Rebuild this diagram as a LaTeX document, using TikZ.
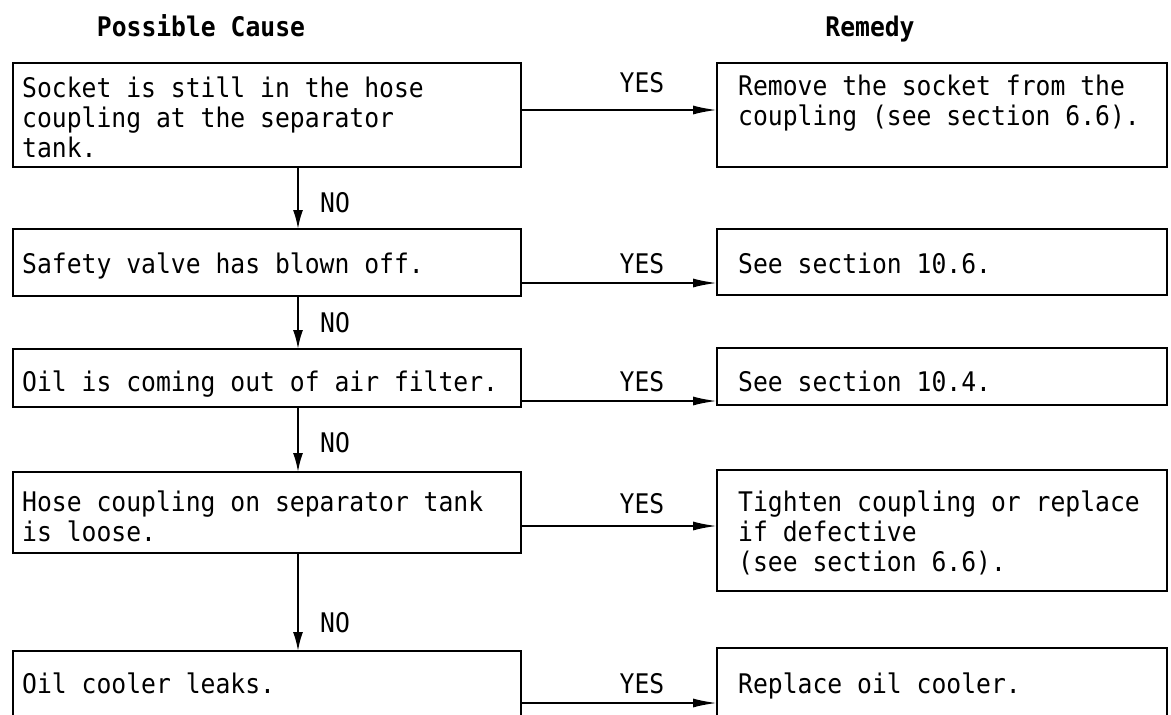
\documentclass[tikz,border=0pt]{standalone}
\usepackage{fontspec}
\newfontfamily\mono[FakeStretch=0.915]{DejaVu Sans Mono}
\usetikzlibrary{arrows.meta}
\begin{document}
\begin{tikzpicture}[x=1pt,y=-1pt,
  box/.style={draw, line width=1.9pt, inner sep=0pt, outer sep=0pt, anchor=north west},
  txt/.style={anchor=north west, inner sep=0pt, align=left, font=\mono\fontsize{27}{30}\selectfont},
  lbl/.style={inner sep=0pt, font=\mono\fontsize{27}{30}\selectfont},
  hdr/.style={anchor=base, inner sep=0pt, font=\mono\bfseries\fontsize{27}{30}\selectfont},
  yesarr/.style={line width=1.9pt, -{Latex[length=24pt,width=9pt]}},
  noarr/.style={line width=1.9pt, -{Latex[length=19pt,width=10pt]}},
]
\useasboundingbox (0,0) rectangle (1171,715);
\clip (0,0) rectangle (1171,715);

% headers
\node[hdr] (hcause) at (201,36) {Possible Cause};
\node[hdr] (hremedy) at (870,36) {Remedy};

% left boxes
\node[box, minimum width=508pt, minimum height=104pt] (L1) at (13,63) {};
\node[box, minimum width=508pt, minimum height=67pt]  (L2) at (13,229) {};
\node[box, minimum width=508pt, minimum height=58pt]  (L3) at (13,349) {};
\node[box, minimum width=508pt, minimum height=81pt]  (L4) at (13,472) {};
\node[box, minimum width=508pt, minimum height=90pt]  (L5) at (13,651) {};

% right boxes
\node[box, minimum width=450pt, minimum height=104pt] (R1) at (717,63) {};
\node[box, minimum width=450pt, minimum height=66pt]  (R2) at (717,229) {};
\node[box, minimum width=450pt, minimum height=57pt]  (R3) at (717,348) {};
\node[box, minimum width=450pt, minimum height=121pt] (R4) at (717,470) {};
\node[box, minimum width=450pt, minimum height=90pt]  (R5) at (717,648) {};

% texts (north west = baseline - 21)
\node[txt] (tL1) at (22,76) {\strut Socket is still in the hose\\coupling at the separator\\tank.};
\node[txt] (tL2) at (22,252) {\strut Safety valve has blown off.};
\node[txt] (tL3) at (22,370) {\strut Oil is coming out of air filter.};
\node[txt] (tL4) at (22,490) {\strut Hose coupling on separator tank\\is loose.};
\node[txt] (tL5) at (22,672) {\strut Oil cooler leaks.};

\node[txt] (tR1) at (738,74) {\strut Remove the socket from the\\coupling (see section 6.6).};
\node[txt] (tR2) at (738,252) {\strut See section 10.6.};
\node[txt] (tR3) at (738,370) {\strut See section 10.4.};
\node[txt] (tR4) at (738,490) {\strut Tighten coupling or replace\\if defective\\(see section 6.6).};
\node[txt] (tR5) at (738,672) {\strut Replace oil cooler.};

% YES connectors
\coordinate (y1) at (0,110);
\coordinate (y2) at (0,283);
\coordinate (y3) at (0,401);
\coordinate (y4) at (0,526);
\coordinate (y5) at (0,703);
\draw[yesarr] (L1.east |- y1) -- (R1.west |- y1);
\draw[yesarr] (L2.east |- y2) -- (R2.west |- y2);
\draw[yesarr] (L3.east |- y3) -- (R3.west |- y3);
\draw[yesarr] (L4.east |- y4) -- (R4.west |- y4);
\draw[yesarr] (L5.east |- y5) -- (R5.west |- y5);

\node[lbl, anchor=base] (yes1) at (642,92) {YES};
\node[lbl, anchor=base] (yes2) at (642,273) {YES};
\node[lbl, anchor=base] (yes3) at (642,391) {YES};
\node[lbl, anchor=base] (yes4) at (642,513) {YES};
\node[lbl, anchor=base] (yes5) at (642,693) {YES};

% NO connectors
\coordinate (vx) at (298,0);
\draw[noarr] (L1.south -| vx) -- (L2.north -| vx);
\draw[noarr] (L2.south -| vx) -- (L3.north -| vx);
\draw[noarr] (L3.south -| vx) -- (L4.north -| vx);
\draw[noarr] (L4.south -| vx) -- (L5.north -| vx);

\node[lbl, anchor=base west] (no1) at (320,212) {NO};
\node[lbl, anchor=base west] (no2) at (320,332) {NO};
\node[lbl, anchor=base west] (no3) at (320,452) {NO};
\node[lbl, anchor=base west] (no4) at (320,632) {NO};
\end{tikzpicture}
\end{document}
